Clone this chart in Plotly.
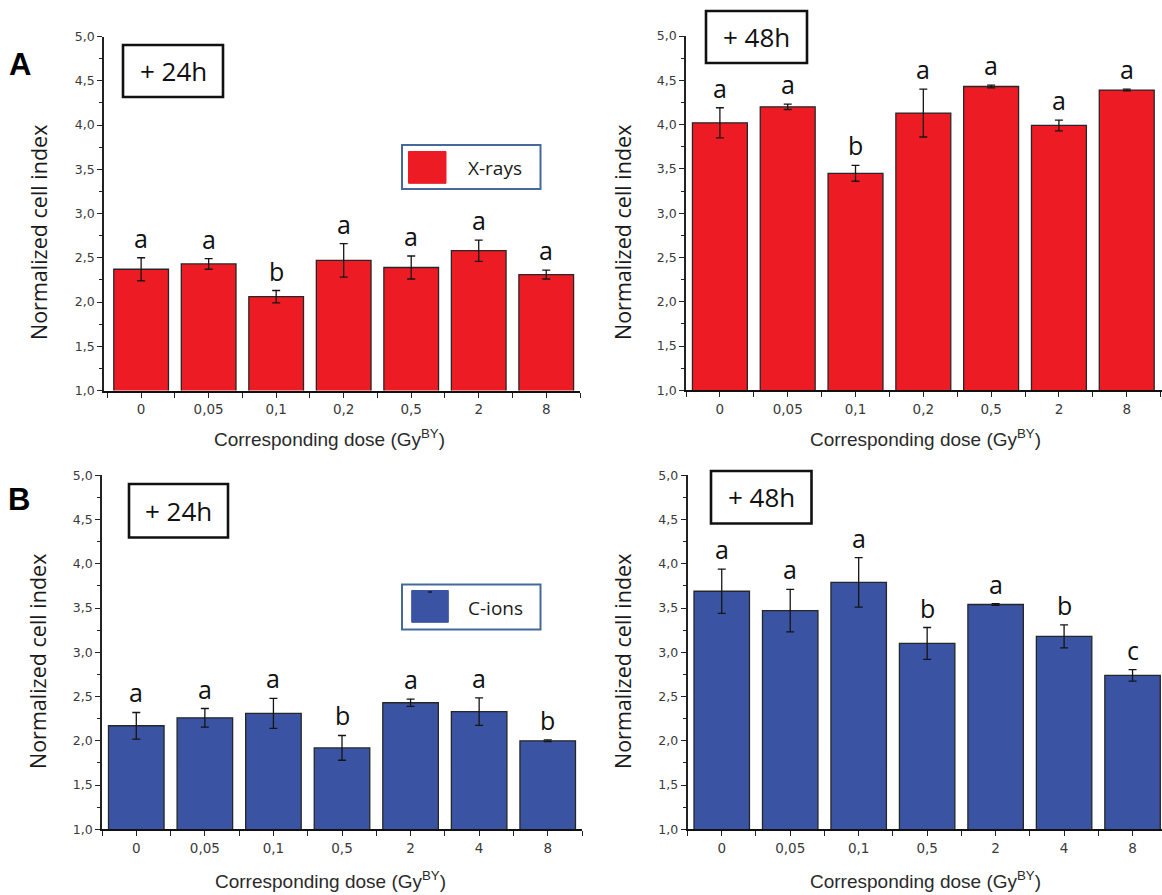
import plotly.graph_objects as go

W, H = 1162, 895

# ---------------- data ----------------
doses_xray = ["0", "0,05", "0,1", "0,2", "0,5", "2", "8"]
doses_cion = ["0", "0,05", "0,1", "0,5", "2", "4", "8"]

xray_24h = [2.37, 2.43, 2.06, 2.47, 2.39, 2.58, 2.31]
xray_24h_err = [0.13, 0.06, 0.07, 0.19, 0.13, 0.12, 0.05]
xray_24h_letters = ["a", "a", "b", "a", "a", "a", "a"]

xray_48h = [4.02, 4.20, 3.45, 4.13, 4.43, 3.99, 4.39]
xray_48h_err = [0.17, 0.03, 0.09, 0.27, 0.015, 0.06, 0.01]
xray_48h_letters = ["a", "a", "b", "a", "a", "a", "a"]

cion_24h = [2.17, 2.26, 2.31, 1.92, 2.43, 2.33, 2.00]
cion_24h_err = [0.15, 0.105, 0.17, 0.14, 0.04, 0.155, 0.01]
cion_24h_letters = ["a", "a", "a", "b", "a", "a", "b"]

cion_48h = [3.69, 3.47, 3.79, 3.10, 3.54, 3.18, 2.74]
cion_48h_err = [0.25, 0.24, 0.28, 0.18, 0.01, 0.13, 0.065]
cion_48h_letters = ["a", "a", "a", "b", "a", "b", "c"]

y_ticks = [1.0, 1.5, 2.0, 2.5, 3.0, 3.5, 4.0, 4.5, 5.0]

RED = "#ED1C24"
BLUE = "#3A53A3"


def px(x):
    return x / W


def py(y):
    return 1 - y / H


# panel geometry (pixels): left, right, top(5.0), bottom(1.0)
panels = [
    dict(ax="", l=104, r=580, t=36.5, b=390.5, doses=doses_xray, vals=xray_24h,
         err=xray_24h_err, letters=xray_24h_letters, color=RED, xl=-0.55, xr=6.5),
    dict(ax="2", l=686, r=1162, t=36.0, b=390.3, doses=doses_xray, vals=xray_48h,
         err=xray_48h_err, letters=xray_48h_letters, color=RED, xl=-0.5, xr=6.52),
    dict(ax="3", l=102, r=582, t=475.3, b=829.3, doses=doses_cion, vals=cion_24h,
         err=cion_24h_err, letters=cion_24h_letters, color=BLUE, xl=-0.5, xr=6.5),
    dict(ax="4", l=687.5, r=1162, t=475.3, b=829.3, doses=doses_cion, vals=cion_48h,
         err=cion_48h_err, letters=cion_48h_letters, color=BLUE, xl=-0.5, xr=6.43),
]

fig = go.Figure()
annotations = []
shapes = []

XTICKFONT = dict(family="DejaVu Sans", size=13.5, color="#3a3a3a")
YTICKFONT = dict(family="DejaVu Sans", size=12.5, color="#3a3a3a")

for p in panels:
    xa = "x" + p["ax"]
    ya = "y" + p["ax"]
    idx = list(range(len(p["doses"])))
    fig.add_trace(go.Bar(
        x=idx, y=p["vals"], xaxis=xa, yaxis=ya,
        marker=dict(color=p["color"], line=dict(color="#262626", width=1.3)),
        error_y=dict(type="data", array=p["err"], color="#151515", thickness=1.3, width=4),
        showlegend=False, base=0,
    ))
    key = "" if p["ax"] == "" else p["ax"]
    fig.layout["xaxis" + key] = dict(
        domain=[px(p["l"]), px(p["r"])], anchor=ya, range=[p["xl"], p["xr"]],
        tickvals=idx, ticktext=p["doses"], ticks="outside", ticklen=5,
        tickcolor="#222", tickwidth=1.3, showline=True, linecolor="#111", linewidth=2,
        showgrid=False, zeroline=False, tickfont=XTICKFONT, automargin=False,
        minor=dict(tick0=-0.5, dtick=1, ticks="outside", ticklen=5, tickcolor="#222", tickwidth=1.3),
    )
    fig.layout["yaxis" + key] = dict(
        domain=[py(p["b"]), py(p["t"])], anchor=xa, range=[1.0, 5.0],
        tickvals=y_ticks, tickformat=".1f", ticks="outside", ticklen=5,
        tickcolor="#222", tickwidth=1.3, showline=True, linecolor="#222", linewidth=1.5,
        showgrid=False, zeroline=False, tickfont=YTICKFONT, automargin=False,
        minor=dict(dtick=0.25, ticks="outside", ticklen=3, tickcolor="#222", tickwidth=1.2),
    )
    for i, (v, e, lt) in enumerate(zip(p["vals"], p["err"], p["letters"])):
        annotations.append(dict(
            x=i, y=v + e, xref=xa, yref=ya, text=lt, showarrow=False,
            yanchor="bottom", xanchor="center", yshift=1,
            font=dict(family="Open Sans", size=25, color="#111"),
        ))

# axis titles
ytitle_pos = [(38, 233), (622, 233), (37, 662), (622, 662)]
xtitle_pos = [(329, 438), (925, 438), (330, 880), (925, 880)]
for (x, y) in ytitle_pos:
    annotations.append(dict(
        x=px(x), y=py(y), xref="paper", yref="paper", text="Normalized cell index",
        textangle=-90, showarrow=False, xanchor="center", yanchor="middle",
        font=dict(family="Open Sans", size=21.5, color="#1a1a1a"),
    ))
for (x, y) in xtitle_pos:
    annotations.append(dict(
        x=px(x), y=py(y), xref="paper", yref="paper",
        text="Corresponding dose (Gy<sup>BY</sup>)",
        showarrow=False, xanchor="center", yanchor="middle",
        font=dict(family="Liberation Sans, Arial", size=19, color="#2a2a2a"),
    ))

# panel letters
for (lab, x, y) in [("A", 20, 65), ("B", 19, 500)]:
    annotations.append(dict(
        x=px(x), y=py(y), xref="paper", yref="paper", text="<b>%s</b>" % lab,
        showarrow=False, xanchor="center", yanchor="middle",
        font=dict(family="Liberation Sans, Arial", size=31, color="#000"),
    ))

# time boxes
time_boxes = [("+ 24h", 123, 223, 45, 97), ("+ 48h", 706, 807, 11, 63),
              ("+ 24h", 129, 228, 484, 537.5), ("+ 48h", 711, 811.5, 471, 523.5)]
for (txt, x0, x1, y0, y1) in time_boxes:
    shapes.append(dict(type="rect", xref="paper", yref="paper",
                       x0=px(x0), x1=px(x1), y0=py(y1), y1=py(y0),
                       line=dict(color="#111", width=2.6), fillcolor="white"))
    annotations.append(dict(
        x=px((x0 + x1) / 2), y=py((y0 + y1) / 2), xref="paper", yref="paper",
        text=txt, showarrow=False, xanchor="center", yanchor="middle",
        font=dict(family="Open Sans", size=26, color="#111"),
    ))

# legend boxes
legends = [("X-rays", RED, 402, 540.5, 145, 189, 408.5, 446, 151.5, 183.3, 168, False),
           ("C-ions", BLUE, 402, 540.5, 584.5, 629.5, 411.7, 448.3, 590.5, 622.3, 608, True)]
for (txt, col, bx0, bx1, by0, by1, sx0, sx1, sy0, sy1, ty, tick) in legends:
    shapes.append(dict(type="rect", xref="paper", yref="paper",
                       x0=px(bx0), x1=px(bx1), y0=py(by1), y1=py(by0),
                       line=dict(color="#46699b", width=2), fillcolor="white"))
    shapes.append(dict(type="rect", xref="paper", yref="paper",
                       x0=px(sx0), x1=px(sx1), y0=py(sy1), y1=py(sy0),
                       line=dict(color=col, width=1), fillcolor=col))
    if tick:
        cx = (sx0 + sx1) / 2
        shapes.append(dict(type="line", xref="paper", yref="paper",
                           x0=px(cx - 2), x1=px(cx + 2), y0=py(sy0 + 1.5), y1=py(sy0 + 1.5),
                           line=dict(color="#111", width=1.3)))
    annotations.append(dict(
        x=px(495), y=py(ty), xref="paper", yref="paper",
        text=txt, showarrow=False, xanchor="center", yanchor="middle",
        font=dict(family="Open Sans", size=19, color="#1a1a1a"),
    ))

fig.update_layout(
    width=W, height=H, margin=dict(l=0, r=0, t=0, b=0),
    paper_bgcolor="white", plot_bgcolor="white",
    separators=", ", bargap=0.19,
    annotations=annotations, shapes=shapes, showlegend=False,
)

fig.write_html(
    "out.html",
    config={"displayModeBar": False},
    post_script="document.body.style.margin='0';document.body.style.overflow='hidden';",
)
